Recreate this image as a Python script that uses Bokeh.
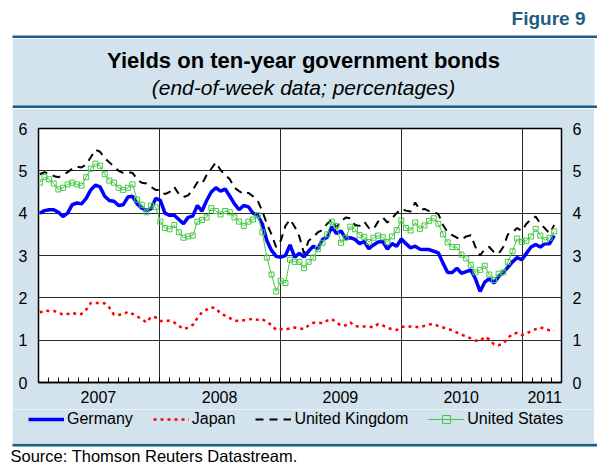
import pandas as pd
from bokeh.plotting import figure
from bokeh.models import Range1d, LinearAxis, FixedTicker, Legend, LegendItem, Spacer
from bokeh.layouts import column, row
from bokeh.embed import file_html
from bokeh.resources import INLINE
from bokeh.core.properties import value

# ---------------- data (end-of-week, sampled every second week) ----------------
dates = pd.date_range("2007-01-05", periods=112, freq="14D")

germany = [4.00, 4.06, 4.08, 4.08, 4.02, 3.92, 4.00, 4.20, 4.24, 4.22,
           4.35, 4.55, 4.66, 4.62, 4.40, 4.30, 4.28, 4.18, 4.20, 4.38,
           4.40, 4.22, 4.12, 4.06, 4.10, 4.35, 4.30, 4.00, 3.95, 3.95,
           3.85, 3.75, 3.90, 3.93, 4.18, 4.05, 4.30, 4.50, 4.60, 4.52,
           4.57, 4.40, 4.22, 4.08, 4.18, 4.15, 4.00, 3.95, 3.75, 3.35,
           3.12, 2.98, 2.96, 3.00, 3.25, 2.96, 3.05, 2.97, 3.10, 3.22,
           3.16, 3.38, 3.43, 3.68, 3.52, 3.58, 3.40, 3.42, 3.38, 3.28,
           3.33, 3.16, 3.25, 3.32, 3.33, 3.15, 3.28, 3.22, 3.39, 3.28,
           3.18, 3.22, 3.15, 3.14, 3.14, 3.10, 3.06, 2.82, 2.60, 2.60,
           2.70, 2.58, 2.62, 2.66, 2.45, 2.15, 2.37, 2.45, 2.35, 2.50,
           2.60, 2.72, 2.85, 2.95, 2.90, 3.05, 3.20, 3.26, 3.20, 3.28,
           3.28, 3.47]

japan = [1.65, 1.70, 1.69, 1.69, 1.66, 1.60, 1.62, 1.65, 1.61, 1.62,
         1.72, 1.88, 1.88, 1.88, 1.87, 1.77, 1.60, 1.60, 1.61, 1.67,
         1.62, 1.56, 1.50, 1.42, 1.55, 1.54, 1.45, 1.46, 1.46, 1.42,
         1.34, 1.26, 1.30, 1.36, 1.52, 1.66, 1.72, 1.78, 1.75, 1.63,
         1.58, 1.52, 1.46, 1.45, 1.47, 1.48, 1.51, 1.48, 1.50, 1.42,
         1.36, 1.24, 1.26, 1.25, 1.28, 1.30, 1.28, 1.26, 1.35, 1.41,
         1.42, 1.40, 1.46, 1.50, 1.42, 1.34, 1.35, 1.42, 1.33, 1.32,
         1.32, 1.32, 1.30, 1.38, 1.35, 1.29, 1.26, 1.24, 1.31, 1.33,
         1.32, 1.32, 1.30, 1.34, 1.37, 1.38, 1.33, 1.30, 1.27, 1.23,
         1.18, 1.13, 1.09, 1.04, 0.99, 0.98, 1.08, 1.02, 0.90, 0.88,
         0.92, 1.05, 1.15, 1.17, 1.12, 1.16, 1.21, 1.26, 1.30, 1.27,
         1.23, 1.22]

united_kingdom = [4.92, 4.97, 4.93, 4.88, 4.85, 4.90, 4.97, 5.05, 5.10, 5.08,
                  5.15, 5.32, 5.50, 5.45, 5.30, 5.20, 5.10, 5.00, 4.95, 4.97,
                  4.95, 4.80, 4.72, 4.70, 4.62, 4.55, 4.55, 4.45, 4.50, 4.62,
                  4.45, 4.38, 4.42, 4.55, 4.73, 4.69, 4.90, 5.05, 5.20, 5.02,
                  4.90, 4.80, 4.60, 4.52, 4.45, 4.48, 4.40, 4.30, 4.05, 3.75,
                  3.50, 3.20, 3.35, 3.70, 3.85, 3.68, 3.45, 3.05, 3.35, 3.43,
                  3.55, 3.60, 3.75, 3.85, 3.67, 3.80, 3.90, 3.88, 3.72, 3.70,
                  3.80, 3.65, 3.62, 3.80, 3.90, 3.78, 3.88, 4.00, 4.10, 4.06,
                  4.04, 4.25, 4.08, 4.10, 4.05, 4.02, 3.98, 3.72, 3.55, 3.48,
                  3.42, 3.38, 3.45, 3.48, 3.20, 3.00, 3.15, 3.20, 3.08, 3.04,
                  3.20, 3.50, 3.55, 3.65, 3.58, 3.75, 3.85, 3.92, 3.75, 3.64,
                  3.52, 3.72]

united_states = [4.72, 4.85, 4.80, 4.70, 4.56, 4.60, 4.68, 4.72, 4.68, 4.65,
                 4.85, 5.05, 5.17, 5.12, 4.92, 4.77, 4.72, 4.60, 4.55, 4.60,
                 4.68, 4.32, 4.20, 4.02, 4.18, 4.14, 3.80, 3.65, 3.62, 3.72,
                 3.55, 3.42, 3.45, 3.47, 3.80, 3.84, 3.90, 4.12, 4.05, 3.97,
                 4.05, 4.02, 3.90, 3.80, 3.70, 3.80, 3.85, 3.95, 3.55, 2.95,
                 2.55, 2.15, 2.40, 2.35, 2.90, 2.85, 2.85, 2.70, 2.85, 2.95,
                 3.15, 3.30, 3.50, 3.80, 3.70, 3.30, 3.42, 3.68, 3.62, 3.48,
                 3.44, 3.32, 3.42, 3.47, 3.43, 3.32, 3.45, 3.60, 3.83, 3.65,
                 3.59, 3.78, 3.63, 3.71, 3.82, 3.88, 3.75, 3.50, 3.31, 3.20,
                 3.20, 3.02, 2.93, 2.78, 2.60, 2.66, 2.76, 2.55, 2.42, 2.57,
                 2.60, 2.85, 3.10, 3.40, 3.32, 3.35, 3.45, 3.63, 3.47, 3.36,
                 3.42, 3.57]

year_labels = ["2007", "2008", "2009", "2010", "2011"]
year_label_dates = ["2007-07-01", "2008-07-01", "2009-07-01", "2010-07-01", "2011-03-10"]
year_start_dates = ["2008-01-01", "2009-01-01", "2010-01-01", "2011-01-01"]
axis_start, axis_end = "2007-01-01", "2011-04-30"
y_ticks = [0, 1, 2, 3, 4, 5, 6]

series_names = ["Germany", "Japan", "United Kingdom", "United States"]

# ---------------- helpers ----------------
T0 = pd.Timestamp(axis_start)


def months(d):
    return round((pd.Timestamp(d) - T0).days / 365.25 * 12, 3)


x = [months(d) for d in dates]
label_pos = [months(d) for d in year_label_dates]
bound_pos = [months(d) for d in year_start_dates]
minor_pos = [months(d) for d in pd.date_range("2007-02-01", axis_end, freq="MS")]

FONT = "Liberation Sans"
BG = "#d2e3ed"
TEAL = "#1d5f80"

DE = dict(line_color="#0000ff", line_width=3.5)
JP = dict(line_color="#ff0000", line_width=2.5, line_dash="3 4")
UK = dict(line_color="black", line_width=2, line_dash="8 6")
US = dict(line_color="#44c844", line_width=1)
US_M = dict(marker="square", size=5, line_color="#44c844", fill_color="white",
            fill_alpha=0.0, line_width=1)


def bare(w, h, bg):
    f = figure(width=w, height=h, x_range=Range1d(0, w), y_range=Range1d(0, h),
               min_border=0, toolbar_location=None, output_backend="svg",
               x_axis_location=None, y_axis_location=None,
               background_fill_color=bg, border_fill_color=bg,
               outline_line_color=None)
    f.grid.visible = False
    return f


# ---------------- header ----------------
top = bare(597, 38, "white")
top.text(x=[585], y=[20], text=["Figure 9"], text_align="right", text_baseline="middle",
         text_font=value(FONT), text_font_style="bold", text_font_size="19px",
         text_color=TEAL)
top.quad(left=[12], right=[597], bottom=[0], top=[3], color=TEAL, line_color=None)

head = bare(585, 70, "white")
head.quad(left=[0], right=[582], bottom=[0], top=[70], color=BG, line_color=None)
head.quad(left=[0], right=[585], bottom=[0], top=[3], color=TEAL, line_color=None)
head.text(x=[291], y=[48], text=["Yields on ten-year government bonds"], text_align="center",
          text_baseline="middle", text_font=value(FONT), text_font_style="bold",
          text_font_size="22px", text_color="black")
head.text(x=[291], y=[21], text=["(end-of-week data; percentages)"], text_align="center",
          text_baseline="middle", text_font=value(FONT), text_font_style="italic",
          text_font_size="21px", text_color="black")

# ---------------- chart ----------------
p = figure(width=582, height=301, x_range=Range1d(0, months(axis_end)), y_range=Range1d(0, 6),
           toolbar_location=None, output_backend="svg",
           min_border_left=26, min_border_right=33, min_border_top=20, min_border_bottom=27,
           border_fill_color=BG, background_fill_color="white",
           outline_line_color="black", outline_line_width=1.5)

yt = FixedTicker(ticks=y_ticks)
p.yaxis.ticker = yt
p.add_layout(LinearAxis(ticker=yt), "right")
for ax in p.yaxis:
    ax.major_tick_in = 0
    ax.major_tick_out = 0
    ax.minor_tick_in = 0
    ax.minor_tick_out = 0
    ax.axis_line_color = None
    ax.major_label_standoff = 11
    ax.major_label_text_font = FONT
    ax.major_label_text_font_size = "16px"
    ax.major_label_text_color = "black"

xa = p.xaxis[0]
xa.ticker = FixedTicker(ticks=label_pos, minor_ticks=minor_pos)
xa.major_label_overrides = {k: v for k, v in zip(label_pos, year_labels)}
xa.major_tick_in = 0
xa.major_tick_out = 0
xa.minor_tick_in = 5
xa.minor_tick_out = 0
xa.minor_tick_line_color = "black"
xa.axis_line_color = "black"
xa.axis_line_width = 1.5
xa.major_label_standoff = 8
xa.major_label_text_font = FONT
xa.major_label_text_font_size = "16px"
xa.major_label_text_color = "black"

p.ygrid.ticker = FixedTicker(ticks=y_ticks[1:-1])
p.xgrid.ticker = FixedTicker(ticks=bound_pos)
p.grid.grid_line_color = "#2a2a2a"
p.grid.grid_line_width = 1

p.line(x, japan, **JP)
p.line(x, united_kingdom, **UK)
p.line(x, germany, **DE)
p.line(x, united_states, **US)
p.scatter(x, united_states, **US_M)

# ---------------- legend strip ----------------
# legend renderers hold a point far outside the strip's visible range, so only
# their legend swatches show
leg = bare(582, 34, BG)
off_x, off_y = [-100, -90], [-100, -100]
r_de = leg.line(off_x, off_y, **DE)
r_jp = leg.line(off_x, off_y, **JP)
r_uk = leg.line(off_x, off_y, **UK)
r_us = leg.line(off_x, off_y, **US)
r_us_m = leg.scatter(off_x, off_y, **US_M)
legend = Legend(items=[LegendItem(label=series_names[0], renderers=[r_de]),
                       LegendItem(label=series_names[1], renderers=[r_jp]),
                       LegendItem(label=series_names[2], renderers=[r_uk]),
                       LegendItem(label=series_names[3], renderers=[r_us, r_us_m])],
                orientation="horizontal", location=(16, 14),
                glyph_width=36, glyph_height=20, label_height=20, label_standoff=3, spacing=20,
                padding=0, margin=0, border_line_color=None, background_fill_alpha=0,
                label_text_font=FONT, label_text_font_size="16px", label_text_color="black")
leg.add_layout(legend)

# ---------------- footer ----------------
foot = bare(597, 21, "white")
foot.quad(left=[12], right=[597], bottom=[18], top=[21], color=TEAL, line_color=None)
foot.text(x=[10], y=[9], text=["Source: Thomson Reuters Datastream."], text_align="left",
          text_baseline="middle", text_font=value(FONT), text_font_size="16.5px",
          text_color="black")

layout = column(top,
                row(Spacer(width=12, height=70), head),
                row(Spacer(width=12, height=301), p),
                row(Spacer(width=12, height=34), leg),
                foot, spacing=0)

open("out.html", "w").write(file_html(layout, INLINE))
